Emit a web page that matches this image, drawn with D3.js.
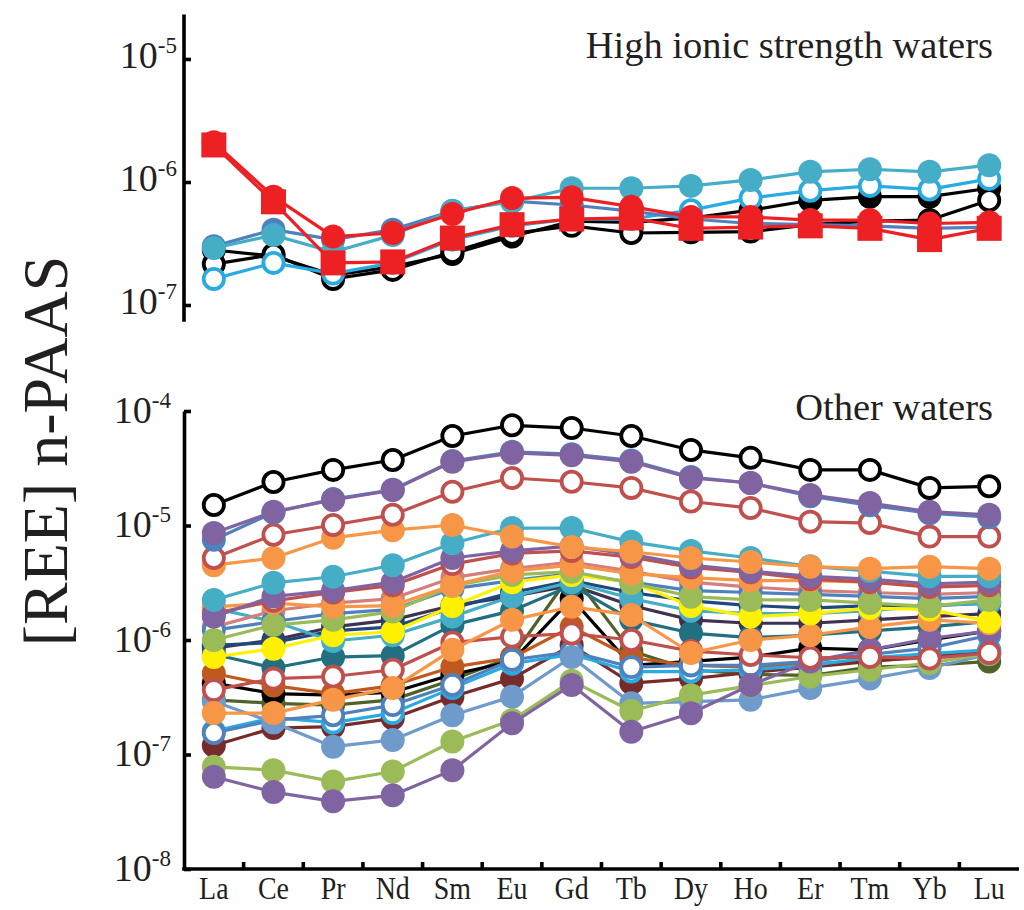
<!DOCTYPE html>
<html>
<head>
<meta charset="utf-8">
<script src="https://cdn.jsdelivr.net/npm/d3@7"></script>
<style>
  html, body { margin: 0; padding: 0; background: #fff; }
  svg { display: block; }
  text { font-family: "Liberation Serif", "DejaVu Serif", serif; fill: #231f20; }
</style>
</head>
<body>
<svg id="chart" width="1024" height="910"></svg>
<script>
// ---- categories and tick values ----
const elements = ["La","Ce","Pr","Nd","Sm","Eu","Gd","Tb","Dy","Ho","Er","Tm","Yb","Lu"];
const highTicks = [1e-7, 1e-6, 1e-5];
const otherTicks = [1e-8, 1e-7, 1e-6, 1e-5, 1e-4];
const highAxisExtent = [7.3e-8, 2.3e-5];

// ---- high ionic strength waters (PAAS-normalised REE) ----
const hiBlackFilled = [2.8e-7,2.5e-7,1.75e-7,2.05e-7,2.6e-7,3.6e-7,4.8e-7,4.7e-7,5.1e-7,5.9e-7,7.1e-7,7.6e-7,7.6e-7,8.9e-7];
const hiBlackOpen   = [2.15e-7,2.57e-7,1.63e-7,1.93e-7,2.7e-7,3.8e-7,4.4e-7,3.85e-7,3.9e-7,3.95e-7,4.5e-7,4.8e-7,4.9e-7,7.1e-7];
const hiCyanOpen    = [1.63e-7,2.2e-7,1.8e-7,2.2e-7,3.4e-7,4.4e-7,5.0e-7,5.0e-7,5.9e-7,7.4e-7,8.5e-7,9.3e-7,8.7e-7,1.06e-6];
const hiBlueFilled  = [3.0e-7,4.1e-7,3.4e-7,4.1e-7,5.8e-7,7.0e-7,6.5e-7,5.8e-7,5.0e-7,4.6e-7,4.5e-7,4.4e-7,4.2e-7,4.3e-7];
const hiTealFilled  = [2.9e-7,3.7e-7,2.7e-7,3.7e-7,5.85e-7,6.9e-7,8.9e-7,8.9e-7,9.3e-7,1.04e-6,1.21e-6,1.27e-6,1.21e-6,1.37e-6];
const hiRedCircle   = [2.1e-6,7.6e-7,3.6e-7,3.85e-7,5.5e-7,7.4e-7,7.5e-7,6.3e-7,5.2e-7,5.2e-7,4.9e-7,4.9e-7,4.6e-7,4.7e-7];
const hiRedSquare   = [2.0e-6,6.9e-7,2.2e-7,2.24e-7,3.5e-7,4.5e-7,5.0e-7,5.1e-7,4.2e-7,4.3e-7,4.4e-7,4.2e-7,3.4e-7,4.2e-7];

// ---- other waters ----
const owDarkPurple  = [8.5e-7,1.0e-6,1.3e-6,1.5e-6,2.0e-6,2.4e-6,3.0e-6,2.0e-6,1.5e-6,1.4e-6,1.4e-6,1.5e-6,1.6e-6,1.7e-6];
const owNavy        = [9.0e-7,9.5e-7,1.2e-6,1.3e-6,1.9e-6,2.6e-6,3.3e-6,2.6e-6,2.2e-6,2.0e-6,1.9e-6,2.0e-6,2.0e-6,2.1e-6];
const owOlive       = [3.0e-7,2.8e-7,2.7e-7,3.0e-7,4.5e-7,7.1e-7,3.85e-6,8.0e-7,5.5e-7,5.0e-7,4.9e-7,5.8e-7,6.0e-7,6.5e-7];
const owBlack       = [4.2e-7,3.4e-7,3.3e-7,3.5e-7,5.0e-7,6.5e-7,2.3e-6,6.0e-7,6.5e-7,7.1e-7,8.5e-7,8.2e-7,1.0e-6,1.2e-6];
const owBrown       = [5.1e-7,4.0e-7,3.4e-7,4.0e-7,5.8e-7,7.0e-7,1.3e-6,7.0e-7,6.0e-7,5.8e-7,6.2e-7,6.6e-7,7.0e-7,7.5e-7];
const owDarkTeal    = [7.5e-7,5.7e-7,7.1e-7,7.3e-7,1.35e-6,1.8e-6,3.0e-6,1.5e-6,1.15e-6,1.05e-6,1.1e-6,1.2e-6,1.3e-6,1.45e-6];
const owTealMid     = [1.9e-6,1.45e-6,9.8e-7,1.1e-6,1.6e-6,2.4e-6,3.2e-6,2.3e-6,1.8e-6,1.7e-6,1.7e-6,1.8e-6,2.0e-6,2.1e-6];
const owMaroon      = [1.2e-7,1.7e-7,1.75e-7,2.07e-7,3.2e-7,4.6e-7,9.0e-7,4.2e-7,4.6e-7,5.2e-7,5.8e-7,6.5e-7,7.2e-7,8.0e-7];
const owCyanOpen    = [1.6e-7,2.1e-7,1.9e-7,2.3e-7,3.8e-7,6.2e-7,7.5e-7,5.3e-7,5.3e-7,5.5e-7,6.0e-7,7.0e-7,7.6e-7,8.2e-7];
const owBlueOpenLow = [1.54e-7,2.0e-7,2.2e-7,2.7e-7,4.05e-7,6.7e-7,7.9e-7,5.8e-7,6.0e-7,6.0e-7,6.5e-7,7.5e-7,8.5e-7,1.1e-6];
const owPaleBlue    = [2.9e-7,1.9e-7,1.17e-7,1.34e-7,2.2e-7,3.2e-7,7.1e-7,2.8e-7,2.9e-7,3.0e-7,3.8e-7,4.6e-7,5.7e-7,7.5e-7];
const owGreenLow    = [7.8e-8,7.3e-8,5.8e-8,7.1e-8,1.3e-7,2.0e-7,4.4e-7,2.4e-7,3.3e-7,4.0e-7,4.8e-7,5.5e-7,6.3e-7,7.6e-7];
const owPurpleLow   = [6.4e-8,4.7e-8,3.9e-8,4.4e-8,7.3e-8,1.87e-7,4.05e-7,1.58e-7,2.29e-7,4.05e-7,6.5e-7,8.2e-7,1.03e-6,1.2e-6];
const owRedOpenLow  = [3.65e-7,4.6e-7,4.8e-7,5.5e-7,9.5e-7,1.07e-6,1.14e-6,1.0e-6,8.0e-7,7.4e-7,7.0e-7,7.1e-7,6.9e-7,7.7e-7];
const owOrangeLow   = [2.3e-7,2.3e-7,3.0e-7,3.8e-7,8.2e-7,1.5e-6,1.95e-6,1.65e-6,7.7e-7,1.0e-6,1.1e-6,1.3e-6,1.5e-6,1.4e-6];
const owPink        = [1.3e-6,1.8e-6,2.1e-6,2.3e-6,3.5e-6,4.2e-6,4.8e-6,4.0e-6,3.2e-6,2.9e-6,2.7e-6,2.6e-6,2.5e-6,2.6e-6];
const owBlueOpenMid = [1.22e-6,1.45e-6,1.7e-6,1.85e-6,2.8e-6,3.3e-6,3.8e-6,3.2e-6,2.7e-6,2.6e-6,2.5e-6,2.4e-6,2.3e-6,2.4e-6];
const owYellow      = [7.1e-7,8.4e-7,1.1e-6,1.18e-6,1.98e-6,3.2e-6,3.7e-6,3.2e-6,1.98e-6,1.6e-6,1.7e-6,1.9e-6,1.85e-6,1.45e-6];
const owGreenMid    = [1.0e-6,1.35e-6,1.5e-6,1.77e-6,2.96e-6,3.7e-6,3.95e-6,3.15e-6,2.39e-6,2.24e-6,2.24e-6,2.1e-6,1.97e-6,2.24e-6];
const owOrangeMid   = [1.95e-6,2.1e-6,1.95e-6,2.0e-6,3.0e-6,4.0e-6,4.5e-6,3.8e-6,3.5e-6,3.3e-6,3.3e-6,3.2e-6,3.0e-6,3.2e-6];
const owRedOpenMid  = [1.7e-6,2.2e-6,2.6e-6,3.0e-6,4.6e-6,5.7e-6,6.0e-6,5.3e-6,4.3e-6,3.9e-6,3.4e-6,3.2e-6,2.9e-6,3.0e-6];
const owPurpleMid   = [1.6e-6,2.4e-6,2.7e-6,3.2e-6,5.2e-6,6.0e-6,6.6e-6,5.6e-6,4.5e-6,4.0e-6,3.6e-6,3.4e-6,3.1e-6,3.2e-6];
const owTealHigh    = [2.24e-6,3.16e-6,3.57e-6,4.5e-6,7.0e-6,9.5e-6,9.5e-6,7.2e-6,6.0e-6,5.2e-6,4.4e-6,4.0e-6,3.6e-6,3.6e-6];
const owOrangeHigh  = [4.5e-6,5.2e-6,7.8e-6,9.1e-6,1.01e-5,8.0e-6,6.5e-6,5.9e-6,5.2e-6,4.8e-6,4.37e-6,4.2e-6,4.37e-6,4.2e-6];
const owRedOpenHigh = [5.2e-6,8.3e-6,1.01e-5,1.24e-5,1.97e-5,2.6e-5,2.41e-5,2.13e-5,1.62e-5,1.42e-5,1.08e-5,1.05e-5,8.0e-6,8.0e-6];
const owBlueHigh    = [7.5e-6,1.3e-5,1.7e-5,2.05e-5,3.65e-5,4.4e-5,4.2e-5,3.7e-5,2.65e-5,2.35e-5,1.8e-5,1.5e-5,1.28e-5,1.18e-5];
const owPurpleHigh  = [8.6e-6,1.32e-5,1.67e-5,2.04e-5,3.6e-5,4.3e-5,4.1e-5,3.6e-5,2.6e-5,2.35e-5,1.85e-5,1.57e-5,1.32e-5,1.24e-5];
const owBlackOpen   = [1.51e-5,2.4e-5,3.06e-5,3.73e-5,6.05e-5,7.5e-5,7.1e-5,6.05e-5,4.57e-5,3.9e-5,3.06e-5,3.06e-5,2.13e-5,2.2e-5];

// ---- series styling tables (drawn in this order) ----
const highSeries = [
  { values: hiBlackFilled, color: "#000000", open: false, shape: "circle" },
  { values: hiBlackOpen,   color: "#000000", open: true,  shape: "circle" },
  { values: hiCyanOpen,    color: "#29abe2", open: true,  shape: "circle" },
  { values: hiBlueFilled,  color: "#4f81bd", open: false, shape: "circle" },
  { values: hiTealFilled,  color: "#45adc6", open: false, shape: "circle" },
  { values: hiRedCircle,   color: "#ed2024", open: false, shape: "circle" },
  { values: hiRedSquare,   color: "#ed2024", open: false, shape: "square" }
];

const otherSeries = [
  { values: owDarkPurple,  color: "#403151", open: false },
  { values: owNavy,        color: "#1f497d", open: false },
  { values: owOlive,       color: "#4f6228", open: false },
  { values: owBlack,       color: "#000000", open: false },
  { values: owBrown,       color: "#c0591e", open: false },
  { values: owDarkTeal,    color: "#216f80", open: false },
  { values: owTealMid,     color: "#45adc6", open: false },
  { values: owMaroon,      color: "#772b2b", open: false },
  { values: owCyanOpen,    color: "#29abe2", open: true },
  { values: owBlueOpenLow, color: "#4f81bd", open: true },
  { values: owPaleBlue,    color: "#6f9bcb", open: false },
  { values: owGreenLow,    color: "#9bbb59", open: false },
  { values: owPurpleLow,   color: "#8064a2", open: false },
  { values: owRedOpenLow,  color: "#c0504d", open: true },
  { values: owOrangeLow,   color: "#f79646", open: false },
  { values: owPink,        color: "#d47f7b", open: false },
  { values: owBlueOpenMid, color: "#4f81bd", open: true },
  { values: owYellow,      color: "#fff100", open: false },
  { values: owGreenMid,    color: "#9bbb59", open: false },
  { values: owOrangeMid,   color: "#f79646", open: false },
  { values: owRedOpenMid,  color: "#c0504d", open: true },
  { values: owPurpleMid,   color: "#8064a2", open: false },
  { values: owTealHigh,    color: "#45adc6", open: false },
  { values: owOrangeHigh,  color: "#f79646", open: false },
  { values: owRedOpenHigh, color: "#c0504d", open: true },
  { values: owBlueHigh,    color: "#4f81bd", open: false },
  { values: owPurpleHigh,  color: "#8064a2", open: false },
  { values: owBlackOpen,   color: "#000000", open: true }
];

// ---- layout ----
const svg = d3.select("#chart");
const axisX0 = 184, axisX1 = 1019;
const R = 12;          // marker outer radius
const lineW = 3.2;

const x = d3.scaleBand().domain(elements).range([axisX0, axisX1]).padding(0);
const cx = d => x(d) + x.bandwidth() / 2;

const yHigh = d3.scaleLog().domain([1e-7, 1e-5]).range([305, 59]);
const yOther = d3.scaleLog().domain([1e-8, 1e-4]).range([869, 411]);

function decadeLabels(axisG, baselineShift) {
  axisG.selectAll(".tick text").each(function (d) {
    const t = d3.select(this);
    const exp = Math.round(Math.log10(d));
    t.text(null).attr("dy", null).attr("y", baselineShift)
      .attr("font-size", 38).attr("text-anchor", "end");
    t.append("tspan").text("10");
    t.append("tspan").attr("font-size", 23).attr("dy", -15).text(String(exp));
  });
}

function styleAxis(g) {
  g.selectAll("path.domain").attr("stroke", "#000").attr("stroke-width", 3.6);
  g.selectAll(".tick line").attr("stroke", "#000").attr("stroke-width", 3.6);
  g.selectAll("text").attr("fill", "#231f20")
    .style("font-family", '"Liberation Serif", serif');
}

// ---- top panel axis ----
const gHighAxis = svg.append("g").attr("transform", `translate(${axisX0},0)`)
  .call(d3.axisLeft(yHigh).tickValues(highTicks).tickSizeInner(-7).tickSizeOuter(0).tickPadding(7));
gHighAxis.select("path.domain").remove();
gHighAxis.append("line")
  .attr("x1", 0).attr("x2", 0)
  .attr("y1", yHigh(highAxisExtent[0])).attr("y2", yHigh(highAxisExtent[1]))
  .attr("stroke", "#000").attr("stroke-width", 3.6);
styleAxis(gHighAxis);
decadeLabels(gHighAxis, 8);

// ---- bottom panel axes ----
const gOtherAxis = svg.append("g").attr("transform", `translate(${axisX0},0)`)
  .call(d3.axisLeft(yOther).tickValues(otherTicks).tickSizeInner(-7).tickSizeOuter(0).tickPadding(13));
styleAxis(gOtherAxis);
decadeLabels(gOtherAxis, 11);

const gX = svg.append("g").attr("transform", `translate(0,${yOther(1e-8)})`)
  .call(d3.axisBottom(x).tickSize(0).tickPadding(7));
gX.select("path.domain").attr("d", `M${axisX0 - 1.8},0H${axisX1}`);
styleAxis(gX);
gX.selectAll(".tick text").attr("font-size", 28).attr("transform", "scale(1,1.1)");
// tick marks sit on the boundaries between element bands
gX.selectAll("line.sep")
  .data(elements.slice(1))
  .join("line")
  .attr("class", "sep")
  .attr("x1", d => x(d)).attr("x2", d => x(d))
  .attr("y1", 0).attr("y2", -7)
  .attr("stroke", "#000").attr("stroke-width", 3.6);

// ---- series drawing ----
const line = yScale => d3.line().x((v, i) => cx(elements[i])).y(v => yScale(v));

function drawSeries(group, list, yScale) {
  list.forEach(s => {
    const g = group.append("g");
    g.append("path")
      .attr("d", line(yScale)(s.values))
      .attr("fill", "none")
      .attr("stroke", s.color)
      .attr("stroke-width", lineW)
      .attr("stroke-linejoin", "round");
    const pts = s.values.map((v, i) => ({ el: elements[i], v }));
    if (s.shape === "square") {
      const side = 25;
      g.selectAll("rect").data(pts).join("rect")
        .attr("x", d => cx(d.el) - side / 2)
        .attr("y", d => yScale(d.v) - side / 2)
        .attr("width", side).attr("height", side)
        .attr("fill", s.color);
    } else if (s.open) {
      g.selectAll("circle").data(pts).join("circle")
        .attr("cx", d => cx(d.el)).attr("cy", d => yScale(d.v))
        .attr("r", R - 1.9)
        .attr("fill", "#fff").attr("stroke", s.color).attr("stroke-width", 3.8);
    } else {
      g.selectAll("circle").data(pts).join("circle")
        .attr("cx", d => cx(d.el)).attr("cy", d => yScale(d.v))
        .attr("r", R)
        .attr("fill", s.color);
    }
  });
}

drawSeries(svg.append("g"), highSeries, yHigh);
drawSeries(svg.append("g"), otherSeries, yOther);

// ---- titles ----
svg.append("text")
  .attr("x", 993).attr("y", 58)
  .attr("text-anchor", "end").attr("font-size", 38.5)
  .text("High ionic strength waters");

svg.append("text")
  .attr("x", 993).attr("y", 420)
  .attr("text-anchor", "end").attr("font-size", 38.5)
  .text("Other waters");

svg.append("text")
  .attr("transform", "translate(67,451) rotate(-90)")
  .attr("text-anchor", "middle").attr("font-size", 64)
  .text("[REE] n-PAAS");
</script>
</body>
</html>
